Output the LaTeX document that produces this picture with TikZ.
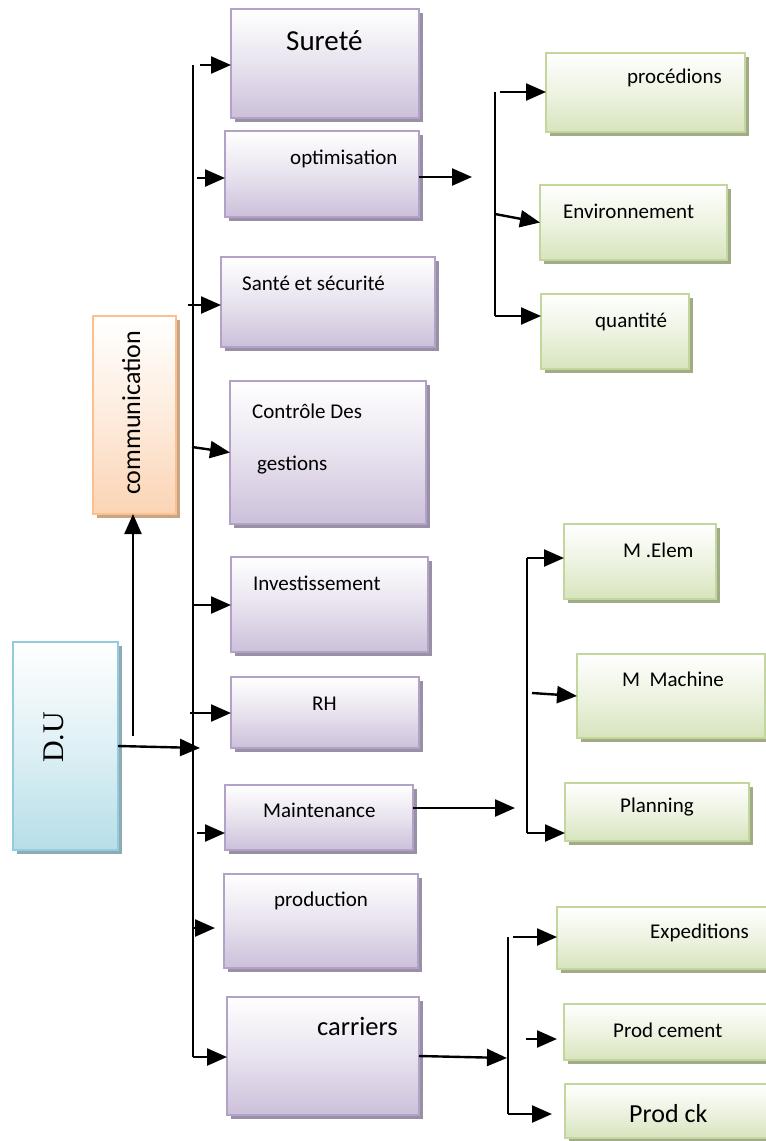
\documentclass[tikz,border=0pt]{standalone}
\usepackage{fontspec}
\setmainfont{Carlito}
\newfontfamily\dufont{Liberation Serif}
\usetikzlibrary{arrows.meta,shadows}
\definecolor{pBorder}{HTML}{B3A2C7}
\definecolor{pBottom}{HTML}{CCC0DA}
\definecolor{pShadow}{HTML}{9A90A6}
\definecolor{gBorder}{HTML}{C3D69B}
\definecolor{gBottom}{HTML}{D7E4BD}
\definecolor{gShadow}{HTML}{A0AB88}
\definecolor{oBorder}{HTML}{FAC090}
\definecolor{oBottom}{HTML}{FBD4B4}
\definecolor{oShadow}{HTML}{C9A584}
\definecolor{bBorder}{HTML}{93CDDD}
\definecolor{bBottom}{HTML}{B7DEE8}
\definecolor{bShadow}{HTML}{8EABB3}
\begin{document}
\begin{tikzpicture}[x=1pt,y=-1pt,
  box/.style={draw, line width=1.5pt, inner sep=0pt, outer sep=0pt, anchor=north west},
  pbox/.style={box, draw=pBorder, top color=white, bottom color=pBottom, middle color=pBottom!45!white,
    drop shadow={shadow xshift=3.5pt,shadow yshift=-3.5pt,fill=pShadow,opacity=1}},
  gbox/.style={box, draw=gBorder, top color=white, bottom color=gBottom, middle color=gBottom!45!white,
    drop shadow={shadow xshift=3.5pt,shadow yshift=-3.5pt,fill=gShadow,opacity=1}},
  obox/.style={box, draw=oBorder, top color=white, bottom color=oBottom, middle color=oBottom!45!white,
    drop shadow={shadow xshift=3.5pt,shadow yshift=-3.5pt,fill=oShadow,opacity=1}},
  bbox/.style={box, draw=bBorder, top color=white, bottom color=bBottom, middle color=bBottom!45!white,
    drop shadow={shadow xshift=3.5pt,shadow yshift=-3.5pt,fill=bShadow,opacity=1}},
  lbl/.style={anchor=base west, inner sep=0pt, font=\fontsize{21}{25}\selectfont},
  arr/.style={line width=2.4pt, -{Triangle[length=20pt,width=17pt]}},
  bus/.style={line width=2.2pt}]
\useasboundingbox (0,0) rectangle (766,1141);
\clip (0,0) rectangle (766,1141);

% ---- left boxes
\node[bbox, minimum width=105pt, minimum height=208pt] (du) at (13,642) {};
\node[obox, minimum width=83pt, minimum height=198pt] (comm) at (93,316) {};
\node[anchor=base west, inner sep=0pt, rotate=90, font=\dufont\fontsize{30}{34}\selectfont] (tdu) at (63,763) {D.U};
\node[anchor=base west, inner sep=0pt, rotate=90, font=\fontsize{26}{30}\selectfont] (tcomm) at (140,495) {communication};

% ---- purple boxes
\node[pbox, minimum width=188pt, minimum height=109pt] (surete) at (231,9) {};
\node[pbox, minimum width=194pt, minimum height=86pt] (optim) at (225,131) {};
\node[pbox, minimum width=214pt, minimum height=90pt] (sante) at (221,257) {};
\node[pbox, minimum width=196pt, minimum height=143pt] (controle) at (230,381) {};
\node[pbox, minimum width=197pt, minimum height=95pt] (invest) at (231,557) {};
\node[pbox, minimum width=188pt, minimum height=71pt] (rh) at (231,677) {};
\node[pbox, minimum width=188pt, minimum height=65pt] (maint) at (225,785) {};
\node[pbox, minimum width=194pt, minimum height=94pt] (prod) at (224,874) {};
\node[pbox, minimum width=192pt, minimum height=118pt] (carriers) at (227,997) {};

\node[lbl, font=\fontsize{29}{33}\selectfont] (tsurete) at (286,50) {Sureté};
\node[lbl] (toptim) at (290,164) {optimisation};
\node[lbl] (tsante) at (242,290) {Santé et sécurité};
\node[lbl] (tcontrole) at (252,418) {Contrôle Des};
\node[lbl] (tgestions) at (257,470) {gestions};
\node[lbl] (tinvest) at (253,590) {Investissement};
\node[lbl] (trh) at (312,710) {RH};
\node[lbl] (tmaint) at (263,817) {Maintenance};
\node[lbl] (tprod) at (274,906) {production};
\node[lbl, font=\fontsize{26.5}{30}\selectfont] (tcarriers) at (317,1035) {carriers};

% ---- green boxes
\node[gbox, minimum width=199pt, minimum height=79pt] (proced) at (546,53) {};
\node[gbox, minimum width=187pt, minimum height=75pt] (env) at (540,185) {};
\node[gbox, minimum width=148pt, minimum height=75pt] (quant) at (541,294) {};
\node[gbox, minimum width=152pt, minimum height=75pt] (melem) at (564,524) {};
\node[gbox, minimum width=188pt, minimum height=84pt] (mmach) at (577,654) {};
\node[gbox, minimum width=184pt, minimum height=58pt] (plan) at (565,783) {};
\node[gbox, minimum width=233pt, minimum height=62pt] (exped) at (557,907) {};
\node[gbox, minimum width=226pt, minimum height=56pt] (prodcem) at (564,1004) {};
\node[gbox, minimum width=225pt, minimum height=54pt] (prodck) at (565,1084) {};

\node[lbl] (tproced) at (627,83) {procédions};
\node[lbl] (tenv) at (563,218) {Environnement};
\node[lbl] (tquant) at (595,327) {quantité};
\node[lbl] (tmelem) at (623,557) {M .Elem};
\node[lbl] (tmmach) at (622,686) {M\ \ Machine};
\node[lbl] (tplan) at (620,812) {Planning};
\node[lbl] (texped) at (650,938) {Expeditions};
\node[lbl] (tprodcem) at (613,1037) {Prod cement};
\node[lbl, font=\fontsize{26}{30}\selectfont] (tprodck) at (629,1122) {Prod ck};

% ---- main bus
\coordinate (b0) at (193,65);
\coordinate (b1) at (193,1057);
\draw[bus] (b0) -- (b1);
\coordinate (a1) at (200,65);
\coordinate (a2) at (197,178);
\coordinate (a3) at (188,305);
\coordinate (a4) at (192,447);
\coordinate (a5) at (192,605);
\coordinate (a6) at (190,713);
\coordinate (a7) at (197,833);
\coordinate (a8) at (193,928);
\coordinate (a8e) at (215,928);
\draw[arr] (a1) -- (a1 -| surete.west);
\draw[arr] (a2) -- (a2 -| optim.west);
\draw[arr] (a3) -- (a3 -| sante.west);
\draw[arr] (a4) -- (controle.west);
\draw[arr] (a5) -- (a5 -| invest.west);
\draw[arr] (a6) -- (a6 -| rh.west);
\draw[arr] (a7) -- (a7 -| maint.west);
\draw[arr] (a8) -- (a8e);
\draw[arr] (b1) -- (b1 -| carriers.west);

% ---- D.U connectors
\coordinate (dub) at (200,748);
\draw[arr] (du.east) -- (dub);
\coordinate (duc) at (133,736);
\draw[arr] (duc) -- (duc |- comm.south);

% ---- optimisation branch
\coordinate (o2) at (472,177);
\draw[arr] (optim.east |- o2) -- (o2);
\coordinate (s1t) at (495,92);
\coordinate (s1b) at (495,316);
\coordinate (s1a) at (500,92);
\coordinate (s1m) at (495,214);
\draw[bus] (s1t) -- (s1b);
\draw[arr] (s1a) -- (s1a -| proced.west);
\draw[arr] (s1m) -- (env.west);
\draw[arr] (s1b) -- (s1b -| quant.west);

% ---- maintenance branch
\coordinate (mt) at (515,808);
\draw[arr] (maint.east |- mt) -- (mt);
\coordinate (s2t) at (527,558);
\coordinate (s2b) at (527,833);
\coordinate (s2m) at (532,693);
\draw[bus] (s2t) -- (s2b);
\draw[arr] (s2t) -- (s2t -| melem.west);
\draw[arr] (s2m) -- (mmach.west);
\draw[arr] (s2b) -- (s2b -| plan.west);

% ---- carriers branch
\coordinate (cr) at (507,1058);
\draw[arr] (carriers.east) -- (cr);
\coordinate (s3t) at (508,937);
\coordinate (s3b) at (508,1114);
\coordinate (s3a) at (513,937);
\coordinate (s3m) at (526,1039);
\coordinate (s3me) at (557,1039);
\coordinate (s3be) at (552,1114);
\draw[bus] (s3t) -- (s3b);
\draw[arr] (s3a) -- (s3a -| exped.west);
\draw[arr] (s3m) -- (s3me);
\draw[arr] (s3b) -- (s3be);
\end{tikzpicture}
\end{document}
